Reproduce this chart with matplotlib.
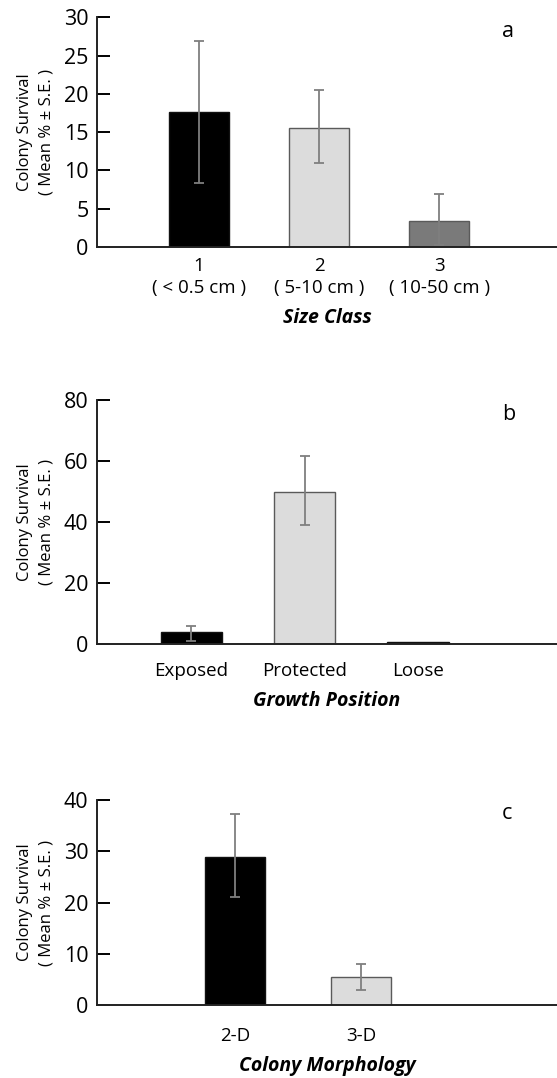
import matplotlib
matplotlib.use("Agg")
import matplotlib.pyplot as plt

plt.rcParams['font.family'] = ['Open Sans', 'DejaVu Sans']

# panel a - size class
size_labels = ["1\n( < 0.5 cm )", "2\n( 5-10 cm )", "3\n( 10-50 cm )"]
size_mean = [17.6, 15.5, 3.4]
size_lo = [8.3, 10.9, 0.3]
size_hi = [26.9, 20.5, 6.9]
size_colors = ["#000000", "#dcdcdc", "#7a7a7a"]

# panel b - growth position
pos_labels = ["Exposed", "Protected", "Loose"]
pos_mean = [3.8, 50.0, 0.8]
pos_lo = [1.1, 39.1]
pos_hi = [5.9, 61.6]
pos_colors = ["#000000", "#dcdcdc", "#000000"]

# panel c - colony morphology
morph_labels = ["2-D", "3-D"]
morph_mean = [28.9, 5.4]
morph_lo = [21.1, 2.9]
morph_hi = [37.3, 8.0]
morph_colors = ["#000000", "#dcdcdc"]

fig = plt.figure(figsize=(5.57, 10.78), dpi=100)


def panel(rect, labels, mean, lo, hi, colors, ymax, ystep, xlim, width, xlabel, letter, xpad):
    ax = fig.add_axes(rect)
    x = list(range(1, len(mean) + 1))
    edges = ["#111111" if c == "#000000" else "#5a5a5a" for c in colors]
    ax.bar(x, mean, width=width, color=colors, edgecolor=edges, linewidth=1.0, zorder=2)
    n = len(lo)
    yerr = [[m - l for m, l in zip(mean[:n], lo)], [h - m for m, h in zip(mean[:n], hi)]]
    ax.errorbar(x[:n], mean[:n], yerr=yerr, fmt="none", ecolor="#7f7f7f",
                elinewidth=1.3, capsize=3.6, capthick=1.3, zorder=3)
    ax.set_xlim(*xlim)
    ax.set_ylim(0, ymax)
    ax.set_yticks(range(0, ymax + 1, ystep))
    ax.set_xticks(x)
    ax.set_xticklabels(labels, fontsize=13.5, linespacing=1.28)
    ax.tick_params(axis="x", length=0, pad=xpad)
    ax.tick_params(axis="y", direction="in", length=9, width=1.4, labelsize=15.5, pad=6)
    for s in ["top", "right"]:
        ax.spines[s].set_visible(False)
    for s in ["left", "bottom"]:
        ax.spines[s].set_linewidth(1.4)
        ax.spines[s].set_color("#222222")
    ax.set_ylabel("Colony Survival\n( Mean % ± S.E. )", fontsize=12, labelpad=7, linespacing=1.4)
    ax.set_xlabel(xlabel, fontsize=14, fontweight="bold", style="italic", labelpad=8)
    ax.text(0.88, 0.985, letter, transform=ax.transAxes, fontsize=15.5, ha="left", va="top")
    return ax


panel([0.174, 0.771, 0.826, 0.213], size_labels, size_mean, size_lo, size_hi, size_colors,
      30, 5, (0.15, 3.98), 0.5, "Size Class", "a", 7)
panel([0.174, 0.4026, 0.826, 0.2263], pos_labels, pos_mean, pos_lo, pos_hi, pos_colors,
      80, 20, (0.166, 4.227), 0.54, "Growth Position", "b", 13)
panel([0.174, 0.0677, 0.826, 0.1902], morph_labels, morph_mean, morph_lo, morph_hi, morph_colors,
      40, 10, (-0.09, 3.545), 0.474, "Colony Morphology", "c", 15.5)

fig.savefig("out.png", dpi=100)
